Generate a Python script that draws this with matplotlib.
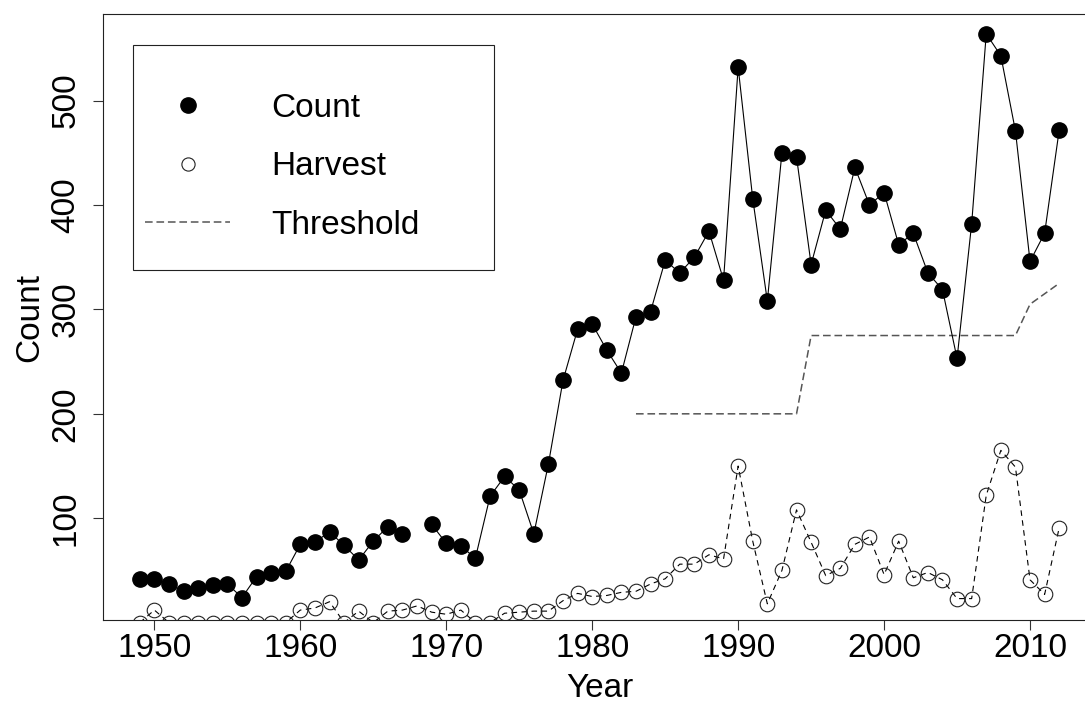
import numpy as np
import matplotlib.pyplot as plt
from matplotlib.lines import Line2D
from matplotlib.patches import Rectangle

plt.rcParams['font.family'] = ['Liberation Sans', 'DejaVu Sans']

# Data
years = np.arange(1949, 2013)
count = [42, 42, 37, 30, 33, 36, 37, 24, 44, 48,
         49, 75, 77, 87, 74, 60, 78, 92, 85, np.nan,
         94, 76, 73, 62, 121, 140, 127, 85, 152, 232,
         281, 286, 261, 239, 293, 298, 347, 335, 350, 375,
         328, 532, 406, 308, 450, 446, 343, 395, 377, 436,
         400, 412, 362, 373, 335, 319, 253, 382, 564, 543,
         471, 346, 373, 472]
harvest = [0, 12, 0, 0, 0, 0, 0, 0, 0, 0,
           0, 12, 14, 20, 0, 11, 0, 11, 12, 16,
           10, 8, 12, 0, 0, 9, 10, 11, 11, 21,
           28, 25, 26, 29, 30, 37, 42, 56, 56, 65,
           61, 150, 78, 18, 50, 108, 77, 45, 52, 75,
           82, 46, 78, 43, 48, 41, 23, 23, 122, 165,
           149, 41, 27, 91]
thr_years = np.arange(1983, 2013)
threshold = [200] * 12 + [275] * 15 + [305, 315, 325]

W, H = 1085, 703
fig = plt.figure(figsize=(W / 100, H / 100), dpi=100)
# axes box: left 103px, right edge runs past the image (cropped like the original)
ax = fig.add_axes([103 / W, 1 - 620 / H, 993 / W, 606 / H])

fs = 24
ax.plot(years, count, color='black', lw=0.8, marker='o', ms=11,
        mfc='black', mec='black', zorder=3)
ax.plot(years, harvest, color='black', lw=0.8, ls=(0, (5, 4)), marker='o', ms=10.5,
        mfc='none', mec='#222222', mew=0.8, zorder=3)
ax.plot(thr_years, threshold, color='#555555', lw=1.1, ls=(0, (5, 2.5)), zorder=2)

ax.set_xlim(1946.48, 2014.52)
ax.set_ylim(2.5, 583)
ax.set_xticks(range(1950, 2011, 10))
ax.set_yticks(range(100, 501, 100))
ax.tick_params(axis='both', direction='out', length=7.5, width=0.8, color='#333333',
               labelsize=fs, pad=2)
for lab in ax.get_yticklabels():
    lab.set_rotation(90)
    lab.set_va('center')
ax.tick_params(axis='y', pad=8)
for s in ax.spines.values():
    s.set_linewidth(0.8)
    s.set_color('#222222')

ax.set_xlabel('Year', fontsize=fs, labelpad=6)
ax.set_ylabel('Count', fontsize=fs, labelpad=4)

# legend box drawn like R's legend()
ax.add_patch(Rectangle((0.0299, 0.5776), 0.3639, 0.3712, transform=ax.transAxes,
                       fill=False, lw=0.8, ec='#222222', zorder=5))
handles = [
    Line2D([], [], ls='none', marker='o', ms=11, mfc='black', mec='black'),
    Line2D([], [], ls='none', marker='o', ms=9.5, mfc='none', mec='#222222', mew=0.8),
    Line2D([], [], color='#555555', lw=1.1, ls=(0, (5, 2.5))),
]
ax.legend(handles, ['Count', 'Harvest', 'Threshold'], loc='upper left',
          bbox_to_anchor=(0.0423, 0.8695), frameon=False, fontsize=fs,
          borderpad=0, borderaxespad=0, handlelength=2.55, handletextpad=1.25,
          labelspacing=0.82)

fig.savefig('out.png', dpi=100)
